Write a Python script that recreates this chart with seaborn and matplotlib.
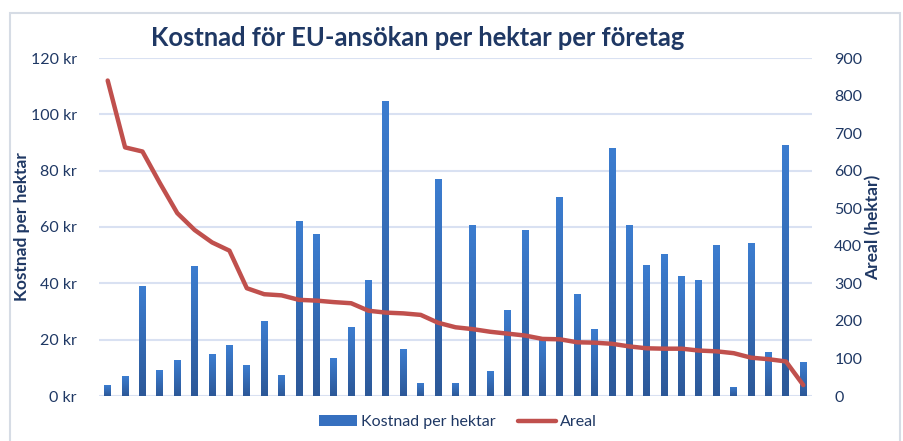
import numpy as np
import pandas as pd
import matplotlib
matplotlib.use("Agg")
import matplotlib.pyplot as plt
import seaborn as sns
from matplotlib.patches import Rectangle, Patch
from matplotlib.lines import Line2D
from matplotlib.ticker import FuncFormatter
from matplotlib.colors import LinearSegmentedColormap

# ---- data ----
kostnad = [3.9, 7.1, 39.1, 9.2, 12.8, 46.2, 14.9, 18.1, 11.0, 26.7,
           7.5, 62.2, 57.6, 13.5, 24.5, 41.2, 104.9, 16.7, 4.7, 77.1,
           4.7, 60.8, 8.9, 30.6, 59.0, 19.9, 70.7, 36.3, 23.8, 88.2,
           60.8, 46.6, 50.5, 42.7, 41.2, 53.7, 3.2, 54.4, 15.6, 89.2, 12.1]
areal = [840, 662, 651, 567, 487, 442, 409, 387, 287, 271,
         268, 256, 254, 250, 247, 227, 222, 220, 216, 195,
         183, 178, 171, 166, 161, 152, 151, 143, 142, 139,
         132, 127, 126, 126, 121, 119, 114, 102, 98, 92, 29]
left_ticks = [0, 20, 40, 60, 80, 100, 120]
right_ticks = [0, 100, 200, 300, 400, 500, 600, 700, 800, 900]
title = "Kostnad för EU-ansökan per hektar per företag"

df = pd.DataFrame({"idx": np.arange(len(kostnad)), "Kostnad per hektar": kostnad, "Areal": areal})

sns.set_theme(style="white")
plt.rcParams["font.family"] = ["Lato", "DejaVu Sans"]

navy = "#1F3864"
grid_c = "#D9E1F2"
red = "#C0504D"

fig = plt.figure(figsize=(9.04, 4.41), dpi=100)
ax = fig.add_axes([99/904, 1-396/441, (812-99)/904, (396-58)/441])

sns.barplot(data=df, x="idx", y="Kostnad per hektar", color="#3670BF",
            width=0.4, ax=ax, zorder=3, saturation=1)

# gradient fill on bars
grad = np.linspace(0, 1, 100).reshape(-1, 1)
cmap = LinearSegmentedColormap.from_list("g", ["#2C5898", "#3C7DD0"])
for p in list(ax.patches):
    x0, y0 = p.get_x(), p.get_y()
    w, h = p.get_width(), p.get_height()
    p.set_facecolor("none")
    p.set_edgecolor("none")
    im = ax.imshow(grad, cmap=cmap, extent=[x0, x0 + w, y0, y0 + h],
                   origin="lower", aspect="auto", zorder=3)
    im.set_clip_path(p)

ax.set_xlim(-0.5, len(kostnad) - 0.5)
ax.set_ylim(0, 120)
ax.set_yticks(left_ticks)
ax.yaxis.set_major_formatter(FuncFormatter(lambda v, _: f"{int(v)} kr"))
ax.set_xticks([])
ax.set_xlabel("")
ax.set_ylabel("Kostnad per hektar", fontsize=12.5, fontweight="bold", color=navy)
ax.yaxis.set_label_coords((30-99)/713, 0.5)
ax.tick_params(axis="y", labelsize=11.5, colors=navy, length=0, pad=16)
ax.grid(axis="y", color=grid_c, linewidth=1.5, zorder=0)
ax.set_axisbelow(True)
for s in ax.spines.values():
    s.set_visible(False)

ax2 = ax.twinx()
sns.lineplot(data=df, x="idx", y="Areal", color=red, linewidth=3.2, ax=ax2,
             solid_joinstyle="round", solid_capstyle="round")
ax2.set_ylim(0, 900)
ax2.set_yticks(right_ticks)
ax2.set_ylabel("Areal (hektar)", fontsize=12.5, fontweight="bold", color=navy)
ax2.yaxis.set_label_coords((865-99)/713, 0.5)
ax2.tick_params(axis="y", labelsize=11.5, colors=navy, length=0, pad=16)
for s in ax2.spines.values():
    s.set_visible(False)
ax2.set_xlim(-0.5, len(kostnad) - 0.5)
ax2.set_xlabel("")

fig.text(418/904, 1-38/441, title, ha="center", va="center",
         fontsize=18.4, fontweight="bold", color=navy)

handles = [Patch(facecolor="#3670BF", edgecolor="none"),
           Line2D([0], [0], color=red, linewidth=3.2)]
fig.legend(handles, ["Kostnad per hektar", "Areal"], loc="center",
           bbox_to_anchor=(458/904, 1-422/441), ncol=2, frameon=False,
           fontsize=11.5, labelcolor=navy, handlelength=2.4, handletextpad=0.25,
           columnspacing=1.4)

fig.patches.append(Rectangle((10/904, -0.05), 890/904, 1-13/441+0.05,
                             transform=fig.transFigure, facecolor="none",
                             edgecolor="#D6DCE5", linewidth=1.5))

fig.savefig("out.png", dpi=100)
